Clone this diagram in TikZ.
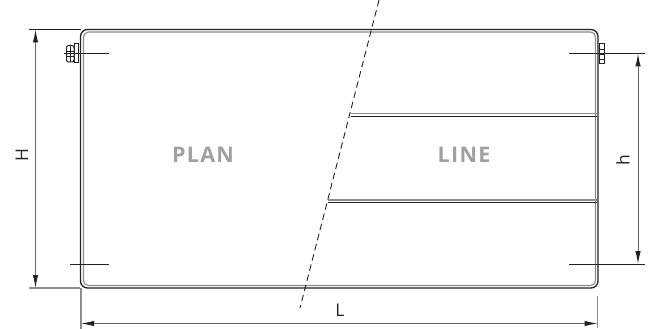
\documentclass[tikz,border=0pt]{standalone}
\usepackage{fontspec}
\setmainfont{Open Sans}
\usetikzlibrary{arrows.meta}
\definecolor{lbl}{HTML}{A0A0A0}
\definecolor{edge}{HTML}{222222}
\definecolor{soft}{HTML}{8C8C8C}
\tikzset{
 thin line/.style={draw=edge,line width=1pt},
 ext line/.style={draw=edge,line width=1pt},
 ext soft/.style={draw=soft,line width=1.2pt},
 dim line/.style={draw=soft!60!edge,line width=1pt,{Latex[length=13pt,width=5.5pt,color=edge]}-{Latex[length=13pt,width=5.5pt,color=edge]}},
 panel outer/.style={draw=edge,line width=1.3pt,rounded corners=7pt},
 panel inner/.style={draw=soft,line width=1.1pt,rounded corners=5pt},
 name label/.style={font=\bfseries\fontsize{21.5}{23}\selectfont,text=lbl,inner sep=0pt},
 dim label/.style={font=\fontsize{17.5}{19}\selectfont,text=edge,inner sep=0pt},
 nut/.style={draw=edge,line width=1pt,fill=white},
 fold top/.style={draw=soft,line width=1.2pt},
 fold bottom/.style={draw=edge,line width=1.1pt},
 cut line/.style={draw=edge,line width=0.9pt,dash pattern=on 6.5pt off 4pt},
}
\begin{document}
\begin{tikzpicture}[x=1pt,y=-1pt]
\useasboundingbox (0,0) rectangle (653,329);
% named points
\coordinate (tl) at (80.5,29.5);
\coordinate (br) at (598,288);
\coordinate (il) at (83.5,32);
\coordinate (ir) at (595.5,285.5);
\coordinate (cutT) at (379,0);
\coordinate (cutB) at (300,308);
\coordinate (f1a) at (351,113.7);
\coordinate (f1b) at (597,113.7);
\coordinate (f1c) at (351,116.3);
\coordinate (f1d) at (597,116.3);
\coordinate (f2a) at (328,200);
\coordinate (f2b) at (597,200);
\coordinate (f2c) at (328,202.5);
\coordinate (f2d) at (597,202.5);
% panel
\draw[panel outer] (tl) rectangle (br);
\draw[panel inner] (il) rectangle (ir);
% nuts
\draw[nut] (74,43.5) rectangle (78.5,63);
\draw[nut,rounded corners=2pt] (66.5,45.5) rectangle (74,62);
\draw[edge,line width=.7pt] (66.5,51)--(74,51) (66.5,56.5)--(74,56.5) (70,45.5)--(70,62);
\draw[nut] (599,43.5) rectangle (604,63.5);
\draw[edge,line width=.7pt] (599,49)--(604,49) (599,54)--(604,54) (599,59)--(604,59);
% folds
\draw[fold top] (f1a)--(f1b);
\draw[fold bottom] (f1c)--(f1d);
\draw[fold top] (f2a)--(f2b);
\draw[fold bottom] (f2c)--(f2d);
% cut
\draw[cut line] (cutT)--(cutB);
% tick marks
\draw[thin line] (64,53.5)--(109,53.5);
\draw[thin line] (70,264)--(109,264);
\draw[thin line] (569,53.5)--(645,53.5);
\draw[thin line] (569,264)--(645,264);
% extension lines
\draw[ext line] (29,29.5)--(81,29.5);
\draw[ext soft] (29,288)--(80,288);
\draw[ext soft] (81,288)--(81,329);
\draw[ext soft] (597.7,296)--(597.7,328);
% dimensions
\coordinate (Ha) at (35.5,29.5);
\coordinate (Hb) at (35.5,288);
\coordinate (ha) at (638,53.5);
\coordinate (hb) at (638,264);
\coordinate (La) at (81,323.5);
\coordinate (Lb) at (597.5,323.5);
\draw[dim line] (Ha)--(Hb);
\draw[dim line] (ha)--(hb);
\draw[dim line] (La)--(Lb);
% labels
\node[dim label,rotate=90] (Hl) at (22,155) {H};
\node[dim label,rotate=90] (hl) at (623,160) {h};
\node[dim label] (Ll) at (340,310) {L};
\node[name label] (pl) at (203,155) {\addfontfeature{LetterSpace=6}PLAN};
\node[name label] (ln) at (464,155) {\addfontfeature{LetterSpace=6}LINE};
\end{tikzpicture}
\end{document}
